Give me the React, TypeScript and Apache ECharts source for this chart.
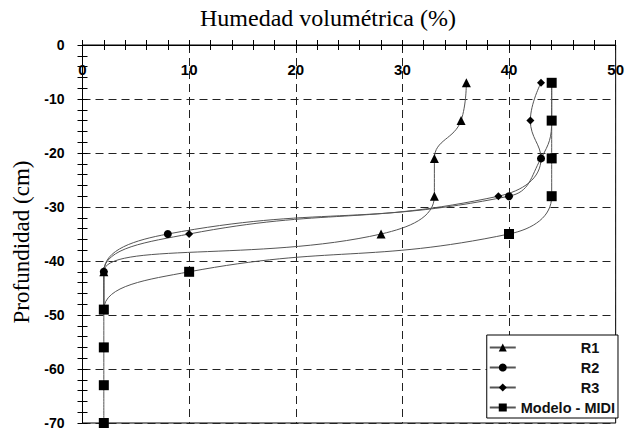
import React, { useEffect, useRef } from "react";
import * as echarts from "echarts";

const depths = [-7, -14, -21, -28, -35, -42, -49, -56, -63, -70];
const r1 = [36, 35.5, 33, 33, 28, 2, 2];
const r2 = [44, 44, 43, 40, 8, 2, 2];
const r3 = [43, 42, 43, 39, 10, 2, 2];
const modelo = [44, 44, 44, 44, 40, 10, 2, 2, 2, 2];
const seriesNames = ["R1", "R2", "R3", "Modelo - MIDI"];
const titleText = "Humedad volumétrica (%)";
const yName = "Profundidad (cm)";

const pair = (xs: number[]) => xs.map((x, i) => [x, depths[i]]);

export default function App() {
  const ref = useRef<HTMLDivElement>(null);
  useEffect(() => {
    document.body.style.margin = "0";
    const chart = echarts.init(ref.current!, undefined, { renderer: "svg" });
    const sans = "Liberation Sans";
    const serif = "Liberation Serif";
    const tickLine = { color: "#000", width: 1 };
    const mkSeries = (name: string, data: number[], symbol: string, size: number) => ({
      name,
      type: "line",
      data: pair(data),
      smooth: 0.45,
      symbol,
      symbolSize: size,
      xAxisIndex: 0,
      yAxisIndex: 0,
      itemStyle: { color: "#000" },
      lineStyle: { color: "#555", width: 1 },
      emphasis: { disabled: true },
    });
    const legendFont = { fontFamily: sans, fontSize: 14.5, fontWeight: "bold", color: "#111" };
    chart.setOption({
      animation: false,
      backgroundColor: "#fff",
      title: {
        text: titleText,
        left: 200,
        top: 6,
        padding: 0,
        textStyle: { fontFamily: serif, fontSize: 24, fontWeight: "normal", color: "#000" },
      },
      grid: {
        left: 82.5,
        right: 11,
        top: 45,
        bottom: 6,
        show: true,
        borderColor: "#000",
        borderWidth: 1,
        backgroundColor: "transparent",
      },
      legend: {
        orient: "vertical",
        right: 9,
        bottom: 12,
        backgroundColor: "#fff",
        borderColor: "#000",
        borderWidth: 1,
        borderRadius: 0,
        padding: [5, 3, 3, 2],
        itemGap: 5,
        itemWidth: 26,
        itemHeight: 10,
        data: seriesNames,
        formatter: (name: string) =>
          name === seriesNames[3] ? `{m|${name}}` : `{r|${name}}`,
        textStyle: {
          color: "#000",
          rich: {
            r: { ...legendFont, width: 40, padding: [0, 0, 0, 60] },
            m: { ...legendFont, width: 100 },
          },
        },
      },
      xAxis: [
        {
          type: "value",
          position: "top",
          min: 0,
          max: 50,
          interval: 10,
          axisLine: { show: true, lineStyle: tickLine },
          axisTick: { show: true, length: 5, lineStyle: tickLine },
          minorTick: { show: true, splitNumber: 5, length: 5, lineStyle: tickLine },
          axisLabel: {
            inside: true,
            margin: 17,
            fontFamily: sans,
            fontSize: 15,
            fontWeight: "bold",
            color: "#000",
          },
          splitLine: { show: true, lineStyle: { color: "#222", type: [8, 5], width: 1 } },
        },
        {
          type: "value",
          position: "top",
          min: 0,
          max: 50,
          interval: 10,
          axisLine: { show: false },
          axisTick: { show: true, inside: true, length: 5, lineStyle: tickLine },
          minorTick: { show: true, splitNumber: 5, length: 5, lineStyle: tickLine },
          axisLabel: { show: false },
          splitLine: { show: false },
        },
      ],
      yAxis: [
        {
          type: "value",
          position: "left",
          min: -70,
          max: 0,
          interval: 10,
          name: yName,
          nameLocation: "middle",
          nameRotate: 90,
          nameGap: 50,
          nameTextStyle: { fontFamily: serif, fontSize: 23, color: "#000", padding: [0, 16, 0, 0] },
          axisLine: { show: true, lineStyle: tickLine },
          axisTick: { show: true, length: 5, lineStyle: tickLine },
          minorTick: { show: true, splitNumber: 5, length: 5, lineStyle: tickLine },
          axisLabel: {
            margin: 18,
            fontFamily: sans,
            fontSize: 14,
            fontWeight: "bold",
            color: "#000",
          },
          splitLine: { show: true, lineStyle: { color: "#222", type: [8, 5], width: 1 } },
        },
        {
          type: "value",
          position: "left",
          min: -70,
          max: 0,
          interval: 10,
          axisLine: { show: false },
          axisTick: { show: true, inside: true, length: 5, lineStyle: tickLine },
          minorTick: { show: true, splitNumber: 5, length: 5, lineStyle: tickLine },
          axisLabel: { show: false },
          splitLine: { show: false },
        },
      ],
      series: [
        mkSeries(seriesNames[0], r1, "triangle", 9),
        mkSeries(seriesNames[1], r2, "circle", 8),
        mkSeries(seriesNames[2], r3, "diamond", 8),
        mkSeries(seriesNames[3], modelo, "rect", 10),
      ],
    });
    return () => chart.dispose();
  }, []);
  return (
    <div
      ref={ref}
      style={{ position: "absolute", left: 0, top: 0, width: 627, height: 430, background: "#fff" }}
    />
  );
}
